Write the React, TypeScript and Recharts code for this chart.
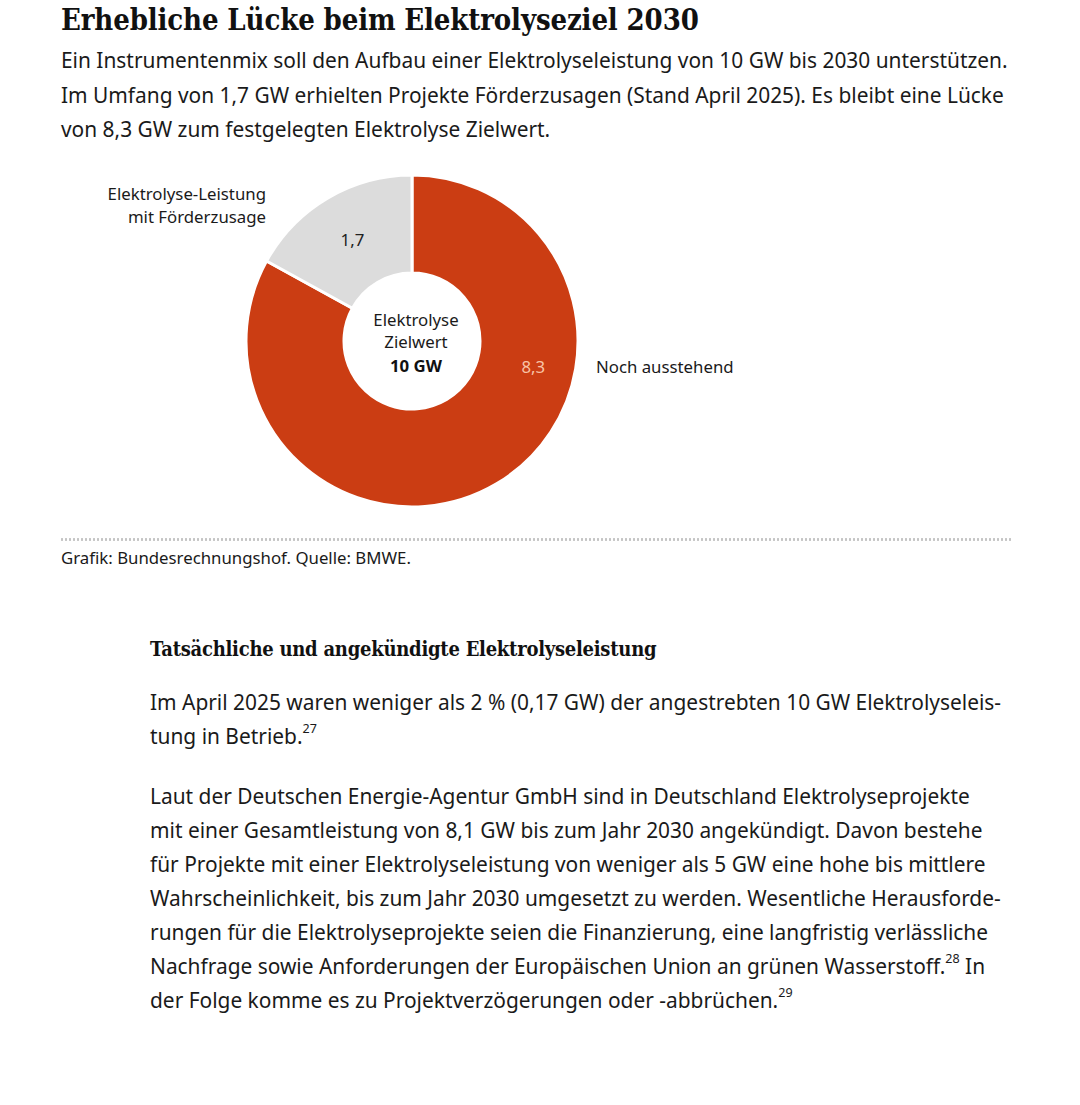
import React from 'react';
import { PieChart, Pie, Cell } from 'recharts';

// Elektrolyse-Leistung in GW (Stand April 2025)
const segmentNames = ['Noch ausstehend', 'Elektrolyse-Leistung mit Förderzusage'];
const segmentValues = [8.3, 1.7];
const segmentLabels = ['8,3', '1,7'];
const segmentColors = ['#cb3d13', '#dcdcdc'];
const segmentTextColors = ['#f8c3a6', '#222222'];
const centerLines = ['Elektrolyse', 'Zielwert', '10 GW'];

const data = segmentNames.map((name, i) => ({
  name,
  value: segmentValues[i],
  label: segmentLabels[i],
}));

const SANS = '"Noto Sans", "Open Sans", sans-serif';
const SERIF = '"DejaVu Serif Condensed", "DejaVu Serif", serif';
const RAD = Math.PI / 180;
const LABEL_SIZE = 16.8;

const introLines = [
  'Ein Instrumentenmix soll den Aufbau einer Elektrolyseleistung von 10 GW bis 2030 unterstützen.',
  'Im Umfang von 1,7 GW erhielten Projekte Förderzusagen (Stand April 2025). Es bleibt eine Lücke',
  'von 8,3 GW zum festgelegten Elektrolyse Zielwert.',
];

const para1 = [
  ['Im April 2025 waren weniger als 2 % (0,17 GW) der angestrebten 10 GW Elektrolyseleis-', ''],
  ['tung in Betrieb.', '27'],
];
const para2 = [
  ['Laut der Deutschen Energie-Agentur GmbH sind in Deutschland Elektrolyseprojekte', ''],
  ['mit einer Gesamtleistung von 8,1 GW bis zum Jahr 2030 angekündigt. Davon bestehe', ''],
  ['für Projekte mit einer Elektrolyseleistung von weniger als 5 GW eine hohe bis mittlere', ''],
  ['Wahrscheinlichkeit, bis zum Jahr 2030 umgesetzt zu werden. Wesentliche Herausforde-', ''],
  ['rungen für die Elektrolyseprojekte seien die Finanzierung, eine langfristig verlässliche', ''],
  ['Nachfrage sowie Anforderungen der Europäischen Union an grünen Wasserstoff.', '28', ' In'],
  ['der Folge komme es zu Projektverzögerungen oder -abbrüchen.', '29'],
];

function SliceLabel(props: any) {
  const { cx, cy, innerRadius, outerRadius, midAngle, index, payload } = props;
  // the big slice carries its value near the right edge, not at its middle
  const r = (innerRadius + outerRadius) / 2 + (index === 0 ? 7 : 0);
  const angle = index === 0 ? -12 : midAngle;
  const x = cx + r * Math.cos(angle * RAD);
  const y = cy - r * Math.sin(angle * RAD);
  const outer =
    index === 0 ? (
      <text x={cx + outerRadius + 18} y={y} dy="0.36em" fontSize={LABEL_SIZE} fontFamily={SANS} fill="#1a1a1a">
        {payload.name}
      </text>
    ) : (
      <text x={cx - 146} y={cy - 141} textAnchor="end" fontSize={LABEL_SIZE} fontFamily={SANS} fill="#1a1a1a">
        <tspan x={cx - 146}>Elektrolyse-Leistung</tspan>
        <tspan x={cx - 146} dy={23}>mit Förderzusage</tspan>
      </text>
    );
  return (
    <g>
      <text x={x} y={y} dy="0.36em" textAnchor="middle" fontSize={LABEL_SIZE} fontFamily={SANS} fill={segmentTextColors[index]}>
        {payload.label}
      </text>
      {outer}
    </g>
  );
}

function Line({ parts, top, left, size }: { parts: string[]; top: number; left: number; size: number }) {
  return (
    <div
      style={{
        position: 'absolute',
        top,
        left,
        fontSize: size,
        fontFamily: SANS,
        color: '#1a1a1a',
        whiteSpace: 'nowrap',
        lineHeight: 1,
      }}
    >
      {parts[0]}
      {parts[1] ? <sup style={{ fontSize: size * 0.6, verticalAlign: 'top', position: 'relative', top: -3 }}>{parts[1]}</sup> : null}
      {parts[2] || null}
    </div>
  );
}

export default function App() {
  const cx = 412;
  const cy = 341;
  const tx = cx + 4;
  return (
    <div style={{ position: 'absolute', top: 0, left: 0, width: 1080, height: 1105, background: '#fff', overflow: 'hidden' }}>
      <div
        style={{
          position: 'absolute',
          top: 6,
          left: 61,
          fontFamily: SERIF,
          fontStretch: 'condensed',
          fontWeight: 'bold',
          fontSize: 29,
          letterSpacing: -0.13,
          color: '#111',
          whiteSpace: 'nowrap',
          lineHeight: 1,
        }}
      >
        Erhebliche Lücke beim Elektrolyseziel 2030
      </div>
      {introLines.map((t, i) => (
        <Line key={t} parts={[t]} top={50 + i * 34.5} left={61} size={20.9} />
      ))}

      <PieChart
        width={1080}
        height={530}
        margin={{ top: 0, right: 0, bottom: 0, left: 0 }}
        style={{ position: 'absolute', top: 0, left: 0 }}
      >
        <Pie
          data={data}
          dataKey="value"
          nameKey="name"
          cx={cx}
          cy={cy}
          innerRadius={68}
          outerRadius={166}
          startAngle={90}
          endAngle={-270}
          stroke="#ffffff"
          strokeWidth={3}
          label={SliceLabel}
          labelLine={false}
          isAnimationActive={false}
        >
          {data.map((d, i) => (
            <Cell key={d.name} fill={segmentColors[i]} />
          ))}
        </Pie>
        <text x={tx} y={cy - 21} dy="0.36em" textAnchor="middle" fontSize={LABEL_SIZE} fontFamily={SANS} fill="#1a1a1a">
          {centerLines[0]}
        </text>
        <text x={tx} y={cy + 1} dy="0.36em" textAnchor="middle" fontSize={LABEL_SIZE} fontFamily={SANS} fill="#1a1a1a">
          {centerLines[1]}
        </text>
        <text x={tx} y={cy + 25} dy="0.36em" textAnchor="middle" fontSize={LABEL_SIZE} fontFamily={SANS} fontWeight="bold" fill="#111">
          {centerLines[2]}
        </text>
      </PieChart>

      <div
        style={{
          position: 'absolute',
          top: 538,
          left: 60,
          width: 953,
          height: 3,
          backgroundImage: 'radial-gradient(circle, #c4c4c4 1.1px, transparent 1.3px)',
          backgroundSize: '4px 3px',
        }}
      />
      <Line parts={['Grafik: Bundesrechnungshof. Quelle: BMWE.']} top={550} left={61} size={16.8} />

      <div
        style={{
          position: 'absolute',
          top: 639,
          left: 150,
          fontFamily: SERIF,
          fontStretch: 'condensed',
          fontWeight: 'bold',
          fontSize: 20,
          letterSpacing: -0.25,
          color: '#111',
          whiteSpace: 'nowrap',
          lineHeight: 1,
        }}
      >
        Tatsächliche und angekündigte Elektrolyseleistung
      </div>
      {para1.map((p, i) => (
        <Line key={p[0]} parts={p} top={692 + i * 34} left={150} size={20.9} />
      ))}
      {para2.map((p, i) => (
        <Line key={p[0]} parts={p} top={786 + i * 34} left={150} size={20.9} />
      ))}
    </div>
  );
}
